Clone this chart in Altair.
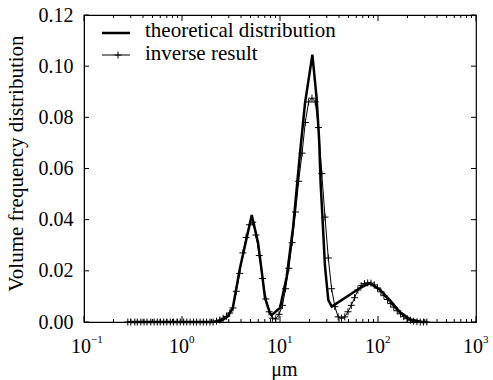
import altair as alt
import pandas as pd

# ---------------- data ----------------
theo_d = [0.3, 1.0, 2.0, 2.5, 2.9, 3.3, 3.9, 4.4, 5.15, 5.97, 6.5, 7.03, 7.9, 8.2,
          10.0, 11.7, 13.6, 16.0, 18.0, 21.4, 23.7, 25.1, 26.0, 27.2, 28.8,
          31.1, 33.7, 65.5, 82.8, 105, 132, 166, 214, 280, 320]
theo_v = [0.0, 0.0, 0.0, 0.0005, 0.002, 0.0055, 0.021, 0.030, 0.0418, 0.031, 0.020,
          0.0094, 0.0035, 0.0027, 0.0055, 0.0177, 0.037, 0.066, 0.0855, 0.1045,
          0.087, 0.071, 0.054, 0.040, 0.0216, 0.0086, 0.006, 0.0133, 0.0152, 0.0125,
          0.0086, 0.004, 0.001, 0.0, 0.0]

inv_d = [0.28, 0.30, 0.33, 0.35, 0.38, 0.41, 0.44, 0.48, 0.52, 0.56, 0.60, 0.65, 0.70,
         0.76, 0.82, 0.89, 0.96, 1.04, 1.12, 1.21, 1.31, 1.41, 1.53, 1.65, 1.78, 1.93,
         2.08, 2.25, 2.43, 2.63, 2.84, 3.07, 3.31, 3.58, 3.87, 4.18, 4.51, 4.88, 5.27,
         5.69, 6.15, 6.64, 7.18, 7.75, 8.37, 9.05, 9.77, 10.6, 11.4, 12.3, 13.3, 14.4,
         15.5, 16.8, 18.1, 19.6, 21.2, 22.9, 24.7, 26.7, 28.8, 31.1, 33.6, 36.3, 39.2,
         42.4, 45.8, 49.4, 53.4, 57.7, 62.3, 67.3, 72.7, 78.5, 84.8, 91.6, 98.9, 107,
         115, 125, 135, 145, 157, 170, 183, 198, 214, 231, 250, 270, 291, 315]
inv_v = [0, 0, 0, 0, 0, 0, 0, 0, 0, 0, 0, 0, 0,
         0, 0, 0, 0, 0, 0, 0, 0, 0, 0, 0, 0, 0,
         0, 0.0003, 0.0008, 0.0015, 0.0022, 0.0035, 0.0055, 0.012, 0.019, 0.027, 0.033,
         0.038, 0.039, 0.034, 0.026, 0.017, 0.009, 0.004, 0.0015, 0.0012, 0.003, 0.0065,
         0.013, 0.021, 0.031, 0.043, 0.055, 0.066, 0.078, 0.086, 0.0875, 0.086, 0.076,
         0.058, 0.041, 0.025, 0.013, 0.006, 0.002, 0.0015, 0.002, 0.004, 0.0065, 0.0095,
         0.0125, 0.0142, 0.0150, 0.0153, 0.0152, 0.0145, 0.0133, 0.0118, 0.0103, 0.0088,
         0.0072, 0.0058, 0.0044, 0.0032, 0.0021, 0.0013, 0.0007, 0.0003, 0.0001, 0, 0, 0]

major_x = [0.1, 1, 10, 100, 1000]
exp_labels = ["\u22121", "0", "1", "2", "3"]
minor_x = [0.2, 0.3, 0.4, 0.5, 0.6, 0.7, 0.8, 0.9,
           2, 3, 4, 5, 6, 7, 8, 9,
           20, 30, 40, 50, 60, 70, 80, 90,
           200, 300, 400, 500, 600, 700, 800, 900]
y_ticks = [0.0, 0.02, 0.04, 0.06, 0.08, 0.10, 0.12]
legend_labels = ["theoretical distribution", "inverse result"]

# ---------------- layout ----------------
W, H = 392, 307
FONT = "Times New Roman, Liberation Serif, serif"
PLUS = "M-1,0L1,0M0,-1L0,1"

df_theo = pd.DataFrame({"d": theo_d, "v": theo_v})
df_inv = pd.DataFrame({"d": inv_d, "v": inv_v})
df_major = pd.DataFrame({"d": major_x, "base": ["10"] * len(major_x), "exp": exp_labels})
df_minor = pd.DataFrame({"d": minor_x})
df_y = pd.DataFrame({"v": y_ticks})

xs = alt.Scale(type="log", domain=[0.1, 1000])
ys = alt.Scale(domain=[0, 0.12])

x_enc = alt.X("d:Q", scale=xs, axis=alt.Axis(
    title="\u03bcm", labels=False, ticks=False, grid=False, domainColor="black",
    titleFont=FONT, titleFontSize=20, titleFontWeight="normal", titleColor="black",
    titlePadding=37, titleX=200))
y_enc = alt.Y("v:Q", scale=ys, axis=alt.Axis(
    title="Volume frequency distribution", values=y_ticks, format=".2f",
    ticks=False, grid=False, domainColor="black",
    labelFont=FONT, labelFontSize=20, labelColor="black", labelPadding=11,
    titleFont=FONT, titleFontSize=21, titleFontWeight="normal", titleColor="black",
    titleAngle=270, titleAlign="center", titleBaseline="middle",
    titleX=-68, titleY=148))

theo = alt.Chart(df_theo).mark_line(color="black", strokeWidth=2.5).encode(x=x_enc, y=y_enc)
inv_line = alt.Chart(df_inv).mark_line(color="black", strokeWidth=1).encode(x="d:Q", y="v:Q")
inv_pts = alt.Chart(df_inv).mark_point(shape=PLUS, filled=False, color="black",
                                       strokeWidth=1, size=49, opacity=1).encode(x="d:Q", y="v:Q")

# inside ticks
bot_major = alt.Chart(df_major).mark_rule(color="black").encode(
    x="d:Q", y=alt.value(H), y2=alt.value(H - 6))
top_major = alt.Chart(df_major).mark_rule(color="black").encode(
    x="d:Q", y=alt.value(0), y2=alt.value(6))
bot_minor = alt.Chart(df_minor).mark_rule(color="black").encode(
    x="d:Q", y=alt.value(H), y2=alt.value(H - 3))
top_minor = alt.Chart(df_minor).mark_rule(color="black").encode(
    x="d:Q", y=alt.value(0), y2=alt.value(3))
left_t = alt.Chart(df_y).mark_rule(color="black").encode(
    y="v:Q", x=alt.value(0), x2=alt.value(5))
right_t = alt.Chart(df_y).mark_rule(color="black").encode(
    y="v:Q", x=alt.value(W), x2=alt.value(W - 5))

# x tick labels: 10 with exponent
base_txt = alt.Chart(df_major).mark_text(font=FONT, fontSize=20, color="black",
                                         align="center", baseline="middle", dx=-3).encode(
    x="d:Q", y=alt.value(H + 25), text="base:N")
exp_txt = alt.Chart(df_major).mark_text(font=FONT, fontSize=11, color="black",
                                        align="left", baseline="middle", dx=7).encode(
    x="d:Q", y=alt.value(H + 18), text="exp:N")

# legend
leg1_line = alt.Chart(df_y.head(1)).mark_rule(color="black", strokeWidth=2.5).encode(
    x=alt.value(18), x2=alt.value(46), y=alt.value(18))
leg2_line = alt.Chart(df_y.head(1)).mark_rule(color="black", strokeWidth=1).encode(
    x=alt.value(18), x2=alt.value(46), y=alt.value(40))
leg2_pt = alt.Chart(df_y.head(1)).mark_point(shape=PLUS, filled=False, color="black",
                                              strokeWidth=1, size=49, opacity=1).encode(
    x=alt.value(34), y=alt.value(40))
leg1_txt = alt.Chart(df_y.head(1)).mark_text(font=FONT, fontSize=21, color="black",
                                             align="left", baseline="middle").encode(
    x=alt.value(61), y=alt.value(16), text=alt.value(legend_labels[0]))
leg2_txt = alt.Chart(df_y.head(1)).mark_text(font=FONT, fontSize=21, color="black",
                                             align="left", baseline="middle").encode(
    x=alt.value(61), y=alt.value(39), text=alt.value(legend_labels[1]))

chart = alt.layer(
    theo, inv_line, inv_pts,
    bot_major, top_major, bot_minor, top_minor, left_t, right_t,
    base_txt, exp_txt,
    leg1_line, leg2_line, leg2_pt, leg1_txt, leg2_txt,
).properties(
    width=W, height=H,
    padding={"left": 84, "top": 15, "right": 17, "bottom": 58},
    autosize=alt.AutoSizeParams(type="none"),
    background="white",
).configure_view(stroke="black", strokeWidth=1.2)

chart.save("out.html", embed_options={"renderer": "svg", "actions": False})
